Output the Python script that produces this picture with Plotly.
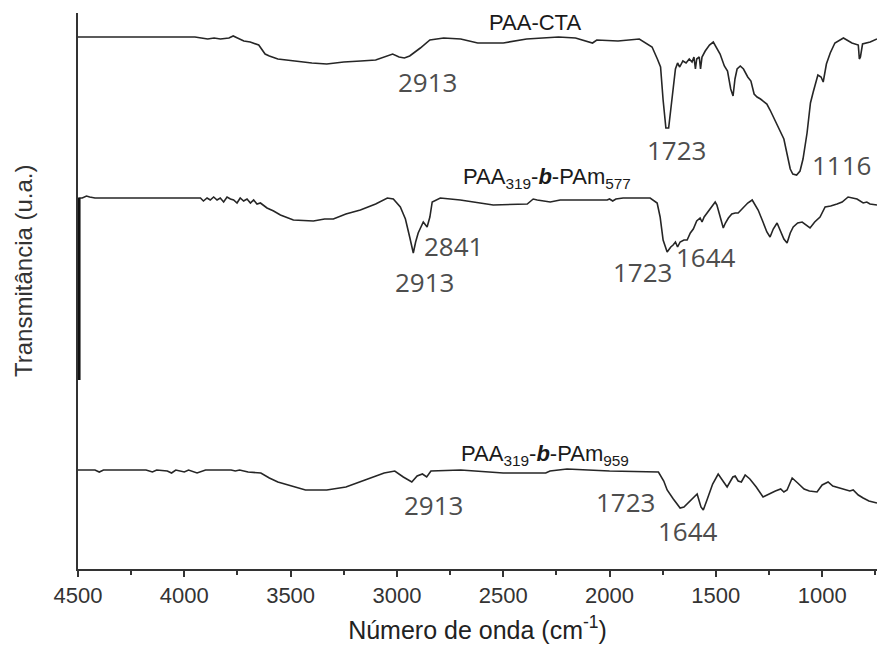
import plotly.graph_objects as go

# FTIR spectra: wavenumber (cm-1) vs. transmittance (arbitrary units, stacked)
cta_wn = [4500, 3950, 3920, 3890, 3860, 3830, 3790, 3770, 3750, 3720, 3690, 3650, 3620, 3600,
          3560, 3490, 3400, 3330, 3250, 3170, 3100, 3020, 2990, 2965, 2940, 2890, 2845, 2780,
          2700, 2620, 2500, 2390, 2240, 2160, 2080, 2060, 1960, 1860, 1800, 1775, 1760, 1748,
          1735, 1722, 1712, 1701, 1690, 1680, 1670, 1655, 1640, 1625, 1612, 1603, 1596, 1590,
          1578, 1572, 1565, 1550, 1530, 1512, 1495, 1480, 1460, 1445, 1430, 1419, 1410, 1400,
          1385, 1370, 1350, 1335, 1320, 1306, 1290, 1260, 1245, 1220, 1198, 1180, 1165, 1150,
          1138, 1120, 1104, 1090, 1071, 1055, 1042, 1020, 1005, 995, 980, 962, 940, 900, 860,
          830, 825, 820, 810, 794, 774, 742]
cta_t = [532, 532, 531, 530, 531, 530, 531, 533, 531, 528, 527, 524, 515, 513,
         510, 508, 506, 505, 507, 508, 509, 515, 512, 511, 513, 521, 529, 531,
         530, 526, 526, 530, 532, 531, 526, 529, 528, 530, 522, 510, 502, 469,
         441, 441, 460, 482, 500, 506, 502, 508, 506, 510, 507, 512, 500, 510,
         512, 500, 512, 518, 524, 527, 520, 515, 503, 498, 480, 473, 490, 500,
         503, 500, 492, 488, 475, 472, 470, 465, 459, 448, 438, 430, 415, 400,
         395, 394, 398, 410, 436, 466, 477, 494, 492, 487, 505, 516, 526, 531, 526,
         524, 510, 512, 525, 526, 527, 530]

b577_wn = [4495, 4495, 4480, 4460, 4445, 4420, 3934, 3924, 3910, 3893, 3878, 3862, 3846, 3831,
           3815, 3799, 3783, 3768, 3752, 3737, 3721, 3705, 3689, 3674, 3658, 3642, 3611, 3580,
           3548, 3487, 3393, 3340, 3299, 3240, 3172, 3100, 3045, 3017, 2984, 2960, 2940, 2923,
           2912, 2900, 2876, 2858, 2845, 2834, 2796, 2702, 2547, 2387, 2359, 2340, 2279, 2232,
           2011, 2000, 1985, 1970, 1936, 1809, 1776, 1762, 1748, 1729, 1712, 1701, 1690, 1680,
           1668, 1650, 1635, 1620, 1606, 1590, 1574, 1565, 1555, 1545, 1536, 1520, 1503, 1495,
           1487, 1475, 1465, 1455, 1441, 1425, 1409, 1395, 1370, 1350, 1329, 1301, 1280, 1260,
           1245, 1230, 1212, 1195, 1180, 1165, 1150, 1136, 1115, 1094, 1075, 1057, 1035, 1010,
           986, 960, 930, 906, 878, 855, 836, 807, 790, 775, 742]
b577_t = [189, 371, 371, 373, 372, 371, 371, 371, 368, 371, 369, 372, 369, 371,
          367, 372, 370, 369, 366, 371, 368, 370, 366, 369, 365, 366, 361, 358,
          354, 349, 348, 350, 350, 355, 359, 365, 371, 370, 362, 350, 332, 316,
          327, 336, 347, 342, 352, 367, 371, 369, 364, 365, 370, 369, 367, 369,
          369, 370, 368, 370, 371, 371, 366, 352, 329, 317, 322, 324, 327, 322,
          327, 329, 329, 336, 340, 348, 351, 347, 352, 355, 357, 362, 367, 364,
          358, 348, 341, 346, 351, 355, 356, 356, 362, 366, 369, 359, 348, 337,
          332, 340, 346, 338, 330, 326, 336, 342, 346, 347, 344, 341, 347, 352,
          362, 363, 365, 367, 372, 371, 370, 366, 367, 365, 364]

b959_wn = [4500, 4420, 4400, 4380, 4180, 4150, 4130, 4080, 4060, 4040, 4000, 3980, 3940, 3900,
           3780, 3760, 3740, 3700, 3640, 3600, 3560, 3500, 3430, 3330, 3240, 3150, 3060, 3010,
           2970, 2930, 2905, 2880, 2860, 2840, 2700, 2500, 2300, 2280, 2200, 2000, 1800, 1770,
           1745, 1729, 1700, 1668, 1650, 1630, 1605, 1588, 1570, 1559, 1540, 1515, 1489, 1475,
           1460, 1447, 1420, 1409, 1395, 1380, 1362, 1340, 1310, 1278, 1250, 1220, 1195, 1180,
           1165, 1141, 1115, 1085, 1060, 1024, 1000, 972, 950, 900, 870, 854, 830, 807, 780, 742]
b959_t = [99, 99, 97, 99, 99, 97, 99, 98, 96, 99, 97, 99, 96, 99,
          99, 98, 99, 97, 96, 91, 87, 83, 79, 79, 82, 89, 96, 98,
          92, 87, 93, 95, 92, 98, 99, 96, 96, 98, 100, 98, 97, 97,
          88, 79, 70, 61, 62, 66, 71, 75, 62, 59, 70, 85, 95, 90,
          86, 82, 92, 93, 88, 87, 94, 90, 82, 72, 75, 78, 80, 77,
          79, 91, 86, 80, 78, 77, 84, 87, 83, 80, 78, 79, 74, 71, 68, 66]

# Sample names and band assignments: (text, wavenumber, transmittance)
sample_labels = [
    ("PAA-CTA", 2350, 547),
    ("PAA<sub>319</sub>-<b><i>b</i></b>-PAm<sub>577</sub>", 2293, 391),
    ("PAA<sub>319</sub>-<b><i>b</i></b>-PAm<sub>959</sub>", 2302, 114),
]
band_labels = [
    ("2913", 2857, 487), ("1723", 1687, 419), ("1116", 907, 404),
    ("2841", 2735, 323), ("2913", 2871, 287), ("1723", 1846, 297), ("1644", 1546, 312),
    ("2913", 2829, 64), ("1723", 1926, 67), ("1644", 1630, 38),
]

line_color = "#262626"
fig = go.Figure()
for wn, t in [(cta_wn, cta_t), (b577_wn, b577_t), (b959_wn, b959_t)]:
    fig.add_trace(go.Scatter(x=wn, y=t, mode="lines",
                             line=dict(color=line_color, width=1.6),
                             showlegend=False, hoverinfo="skip"))
# heavier stroke on the initial drop of the PAm577 spectrum
fig.add_trace(go.Scatter(x=b577_wn[:2], y=b577_t[:2], mode="lines",
                         line=dict(color="#111111", width=3),
                         showlegend=False, hoverinfo="skip"))

annotations = []
for text, x, y in sample_labels:
    annotations.append(dict(x=x, y=y, text=text, showarrow=False,
                            font=dict(family="Liberation Sans, Arial", size=22, color="#1a1a1a")))
for text, x, y in band_labels:
    annotations.append(dict(x=x, y=y, text=text, showarrow=False,
                            font=dict(family="Open Sans, Noto Sans", size=26, color="#4d4d4d")))
annotations.append(dict(xref="paper", x=0, xshift=-55, y=298, yref="y", text="Transmitância (u.a.)",
                        textangle=-90, showarrow=False, xanchor="center", yanchor="middle",
                        font=dict(family="Liberation Sans, Arial", size=24, color="#333333")))

fig.update_layout(
    width=877, height=653,
    margin=dict(l=78, r=0, t=13, b=84),
    paper_bgcolor="white", plot_bgcolor="white",
    annotations=annotations,
    xaxis=dict(
        range=[4500, 742], showgrid=False, zeroline=False,
        showline=True, linecolor="#333333", linewidth=1.5,
        tickmode="array", tickvals=[4500, 4000, 3500, 3000, 2500, 2000, 1500, 1000],
        ticks="outside", ticklen=6, tickwidth=1.5, tickcolor="#333333",
        minor=dict(tickvals=[4250, 3750, 3250, 2750, 2250, 1750, 1250, 750],
                   ticks="outside", ticklen=4, tickwidth=1.5, tickcolor="#333333"),
        tickfont=dict(family="Liberation Sans, Arial", size=22, color="#333333"),
        title=dict(text="Número de onda (cm<sup>-1</sup>)", standoff=14,
                   font=dict(family="Liberation Sans, Arial", size=25, color="#222222")),
    ),
    yaxis=dict(
        range=[0, 556], showgrid=False, zeroline=False, showticklabels=False,
        ticks="", showline=True, linecolor="#333333", linewidth=1.5,
    ),
)

fig.write_html("out.html")
